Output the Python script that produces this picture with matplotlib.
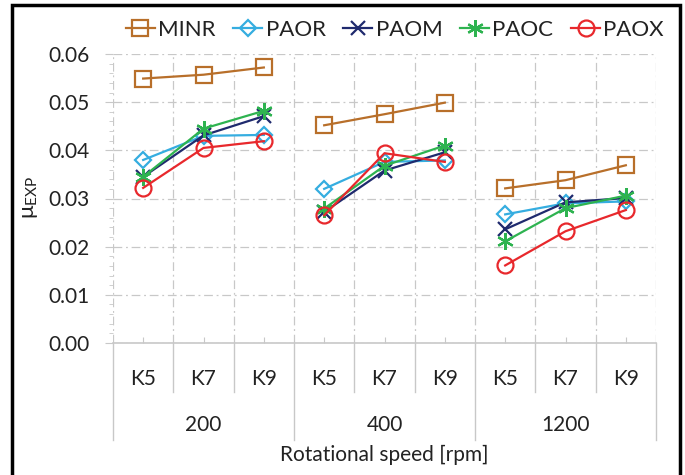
import matplotlib
matplotlib.use('Agg')
import matplotlib.pyplot as plt
from matplotlib.patches import Rectangle

plt.rcParams['font.family'] = ['Lato', 'DejaVu Sans']
plt.rcParams['mathtext.fontset'] = 'custom'
plt.rcParams['mathtext.rm'] = 'Lato'

# data
speeds = ['200', '400', '1200']
kinds = ['K5', 'K7', 'K9']
series_names = ['MINR', 'PAOR', 'PAOM', 'PAOC', 'PAOX']
minr = [0.0549, 0.0557, 0.0572, 0.0452, 0.0475, 0.0499, 0.0321, 0.0338, 0.0369]
paor = [0.0380, 0.0430, 0.0432, 0.0320, 0.0376, 0.0379, 0.0267, 0.0290, 0.0294]
paom = [0.0345, 0.0431, 0.0471, 0.0272, 0.0358, 0.0396, 0.0236, 0.0292, 0.0301]
paoc = [0.0345, 0.0445, 0.0482, 0.0279, 0.0368, 0.0410, 0.0211, 0.0280, 0.0306]
paox = [0.0322, 0.0405, 0.0419, 0.0265, 0.0394, 0.0376, 0.0161, 0.0232, 0.0276]

colors = ['#B86F2A', '#35ADE0', '#1F2A6E', '#2EB350', '#E8282C']
markers = ['s', 'D', 'x', (6, 2, 0), 'o']
msizes = [12, 8.5, 10, 12, 11.5]
all_series = [minr, paor, paom, paoc, paox]

labels = [k for s in speeds for k in kinds]
x = list(range(len(labels)))
n = len(kinds)

fig = plt.figure(figsize=(6.85, 4.75), dpi=100)
ax = fig.add_axes([113/685, 1-343/475, (656-113)/685, (343-54)/475])

# one line per speed group, so the groups are not joined
for name, vals, c, m, ms in zip(series_names, all_series, colors, markers, msizes):
    filled = m in ['x', (6, 2, 0)]
    for g in range(len(speeds)):
        ax.plot(x[g*n:(g+1)*n], vals[g*n:(g+1)*n], color=c, lw=1.6, marker=m, markersize=ms,
                markerfacecolor=c if filled else 'none', markeredgecolor=c,
                markeredgewidth=1.6, label=name if g == 0 else None, zorder=3)

grid_c = '#c8c8c8'
ax.set_xlim(-0.5, len(labels) - 0.5)
ax.set_ylim(0, 0.06)
ax.set_yticks([0, 0.01, 0.02, 0.03, 0.04, 0.05, 0.06])
ax.set_yticklabels(['0.00', '0.01', '0.02', '0.03', '0.04', '0.05', '0.06'])
ax.set_yticks([i * 0.002 for i in range(31)], minor=True)
ax.yaxis.grid(True, which='major', color=grid_c, lw=0.9, linestyle=(0, (7, 3, 1.5, 3)))
for b in range(len(labels) + 1):
    ax.axvline(b - 0.5, color=grid_c, lw=0.9, linestyle=(0, (7, 3, 1.5, 3)), zorder=1)

ax.set_xticks(x)
ax.set_xticklabels(labels)
ax.tick_params(axis='x', direction='in', length=4, color=grid_c, pad=19, labelsize=15, labelcolor='#222222')
ax.tick_params(axis='y', which='major', direction='out', length=6, color=grid_c, pad=11, labelsize=15, labelcolor='#222222')
ax.tick_params(axis='y', which='minor', direction='out', length=3, color=grid_c)

for s in ['top', 'right', 'left']:
    ax.spines[s].set_visible(False)
ax.spines['bottom'].set_color(grid_c)
ax.spines['bottom'].set_linewidth(1.2)

# category separators below the axis
tr = ax.get_xaxis_transform()
for b in range(len(labels) + 1):
    low = -0.337 if b % n == 0 else -0.17
    ax.plot([b - 0.5, b - 0.5], [0, low], transform=tr, color=grid_c, lw=1.0, clip_on=False)
for i, s in enumerate(speeds):
    ax.text(i * n + 1, -0.284, s, transform=tr, ha='center', va='center',
            fontsize=15, color='#222222')
ax.text(0.5, -0.388, 'Rotational speed [rpm]', transform=ax.transAxes, ha='center',
        va='center', fontsize=15, color='#222222')
fig.text(30/685, 1-197/475, r'μ$_{\rm EXP}$', rotation=90, ha='center', va='center',
         fontsize=16, color='#222222')

ax.legend(loc='center', bbox_to_anchor=(395/685, 1-30/475), bbox_transform=fig.transFigure,
          ncol=5, frameon=False, fontsize=16, handlelength=1.3, handletextpad=0.15,
          columnspacing=0.8, labelcolor='#222222')

fig.patches.append(Rectangle((12/685, -0.02), (680-12)/685, 1.02-5/475, transform=fig.transFigure,
                             fill=False, edgecolor='black', lw=2.5))

plt.savefig('out.png', dpi=100)
plt.close()
